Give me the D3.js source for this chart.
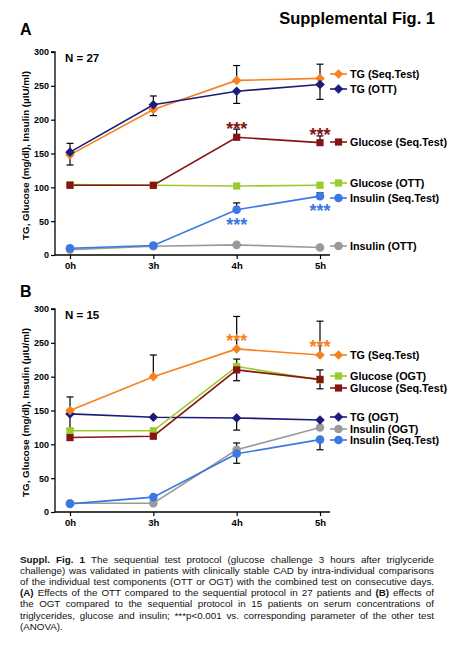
<!DOCTYPE html>
<html><head><meta charset="utf-8">
<script src="https://cdn.jsdelivr.net/npm/d3@7"></script>
<style>body{margin:0;background:#fff}svg{display:block}text{font-family:"Liberation Sans",Arial,sans-serif}</style>
</head><body>
<svg id="c" width="450" height="650"></svg>
<script>
const timepoints = ["0h","3h","4h","5h"];
const yTicks = [0,50,100,150,200,250,300];
const yLabel = "TG, Glucose (mg/dl), Insulin (µIU/ml)";

// Panel A (N = 27)
const aNames = ["TG (Seq.Test)","TG (OTT)","Glucose (Seq.Test)","Glucose (OTT)","Insulin (Seq.Test)","Insulin (OTT)"];
const aTGSeq   = [148,215,258,261];
const aTGOTT   = [152,222,242,252];
const aGluSeq  = [103,103,174,166];
const aGluOTT  = [104,103,102,103];
const aInsSeq  = [10,14,67,87];
const aInsOTT  = [8,13,15,11];
const aErrTGSeq  = [15,9,22,21];
const aErrTGOTT  = [13,13,18,22];
const aErrGluSeq = [0,0,12,10];
const aErrInsSeq = [0,0,10,5];
// Panel B (N = 15)
const bNames = ["TG (Seq.Test)","Glucose (OGT)","Glucose (Seq.Test)","TG (OGT)","Insulin (OGT)","Insulin (Seq.Test)"];
const bTGSeq   = [150,200,241,232];
const bGluOGT  = [120,120,215,195];
const bGluSeq  = [110,112,210,196];
const bTGOGT   = [145,140,139,136];
const bInsOGT  = [13,13,92,125];
const bInsSeq  = [12,22,86,107];
const bErrTGSeq  = [20,32,48,50];
const bErrGluSeq = [0,0,16,14];
const bErrTGOGT  = [22,0,18,0];
const bErrInsOGT = [0,0,10,0];
const bErrInsSeq = [0,0,14,15];

const C = {orange:"#f5821f", navy:"#1c1c7c", red:"#861414", green:"#9bcb2a", blue:"#3a78e3", gray:"#9a9a9a"};

const panels = [
  {letter:"A", n:"N = 27", top:52, bottom:255, letterY:35,
   series:[
    {name:aNames[0], v:aTGSeq, err:aErrTGSeq, dir:["down","down","up","up"], color:C.orange, shape:"diamond", ly:74},
    {name:aNames[1], v:aTGOTT, err:aErrTGOTT, dir:["up","up","down","down"], color:C.navy, shape:"diamond", ly:89},
    {name:aNames[2], v:aGluSeq, err:aErrGluSeq, dir:"up", color:C.red, shape:"square", ly:142, stars:[null,null,"up","up"]},
    {name:aNames[3], v:aGluOTT, err:null, color:C.green, shape:"square", ly:183},
    {name:aNames[4], v:aInsSeq, err:aErrInsSeq, dir:"up", color:C.blue, shape:"circle", ly:198, stars:[null,null,"down","down"]},
    {name:aNames[5], v:aInsOTT, err:null, color:C.gray, shape:"circle", ly:246}
   ], order:[5,4,3,2,0,1]},
  {letter:"B", n:"N = 15", top:309, bottom:512, letterY:297,
   series:[
    {name:bNames[0], v:bTGSeq, err:bErrTGSeq, dir:"up", color:C.orange, shape:"diamond", ly:355, stars:[null,null,"up","up"]},
    {name:bNames[1], v:bGluOGT, err:null, color:C.green, shape:"square", ly:376},
    {name:bNames[2], v:bGluSeq, err:bErrGluSeq, dir:"both", color:C.red, shape:"square", ly:388},
    {name:bNames[3], v:bTGOGT, err:bErrTGOGT, dir:"down", color:C.navy, shape:"diamond", ly:417},
    {name:bNames[4], v:bInsOGT, err:bErrInsOGT, dir:"up", color:C.gray, shape:"circle", ly:429},
    {name:bNames[5], v:bInsSeq, err:bErrInsSeq, dir:"down", color:C.blue, shape:"circle", ly:440}
   ], order:[4,5,3,1,2,0]}
];

const svg = d3.select("#c");
svg.append("text").attr("x",435).attr("y",24).attr("text-anchor","end")
  .attr("font-size",16.5).attr("font-weight","bold").text("Supplemental Fig. 1");

const x = d3.scalePoint().domain(timepoints).range([70,320]);
const axL = 55, axR = 330;

function marker(g, shape, cx, cy, color){
  if(shape==="circle") g.append("circle").attr("cx",cx).attr("cy",cy).attr("r",4.3).attr("fill",color);
  else if(shape==="square") g.append("rect").attr("x",cx-3.6).attr("y",cy-3.6).attr("width",7.2).attr("height",7.2).attr("fill",color);
  else g.append("path").attr("d",`M${cx},${cy-4.8}L${cx+4.8},${cy}L${cx},${cy+4.8}L${cx-4.8},${cy}Z`).attr("fill",color);
}

panels.forEach(p=>{
  const y = d3.scaleLinear().domain([0,300]).range([p.bottom,p.top]);
  const g = svg.append("g");
  g.append("text").attr("x",20).attr("y",p.letterY).attr("font-size",16).attr("font-weight","bold").text(p.letter);
  g.append("text").attr("x",65).attr("y",p.top+9.5).attr("font-size",11.5).attr("font-weight","bold").text(p.n);
  // y axis
  const ya = g.append("g").attr("transform",`translate(${axL},0)`)
    .call(d3.axisLeft(y).tickValues(yTicks).tickSize(4).tickPadding(2));
  ya.select(".domain").attr("stroke","#000").attr("stroke-width",1.3).attr("d",`M-4,${p.top}H0V${p.bottom}`);
  ya.selectAll(".tick line").attr("stroke","#000").attr("stroke-width",1.2);
  ya.selectAll(".tick text").attr("font-size",9).attr("font-weight","bold").attr("font-family","Liberation Sans, Arial").attr("fill","#000");
  // x axis
  const xa = g.append("g").attr("transform",`translate(0,${p.bottom})`)
    .call(d3.axisBottom(x).tickSize(4).tickPadding(3));
  xa.select(".domain").attr("stroke","#000").attr("stroke-width",1.3).attr("d",`M${axL},0H${axR}`);
  xa.selectAll(".tick line").attr("stroke","#000").attr("stroke-width",1.2);
  xa.selectAll(".tick text").attr("font-size",9.5).attr("font-weight","bold").attr("font-family","Liberation Sans, Arial").attr("fill","#000");
  // y label
  g.append("text").attr("transform",`translate(29,${(p.top+p.bottom)/2+2}) rotate(-90)`)
    .attr("text-anchor","middle").attr("font-size",9.8).attr("font-weight","bold").text(yLabel);

  const line = d3.line().x((d,i)=>x(timepoints[i])).y(d=>y(d));
  p.order.forEach(si=>{
    const s = p.series[si];
    g.append("path").attr("d",line(s.v)).attr("fill","none").attr("stroke",s.color).attr("stroke-width",1.6);
  });
  // error bars
  p.series.forEach(s=>{
    if(!s.err) return;
    s.err.forEach((e,i)=>{
      if(!e) return;
      const d = Array.isArray(s.dir)? s.dir[i] : s.dir;
      const cx = x(timepoints[i]);
      const hi = (d==="up"||d==="both")? s.v[i]+e : s.v[i];
      const lo = (d==="down"||d==="both")? s.v[i]-e : s.v[i];
      g.append("line").attr("x1",cx).attr("x2",cx).attr("y1",y(hi)).attr("y2",y(lo)).attr("stroke","#000").attr("stroke-width",1.2);
      if(d==="up"||d==="both") g.append("line").attr("x1",cx-3.5).attr("x2",cx+3.5).attr("y1",y(hi)).attr("y2",y(hi)).attr("stroke","#000").attr("stroke-width",1.2);
      if(d==="down"||d==="both") g.append("line").attr("x1",cx-3.5).attr("x2",cx+3.5).attr("y1",y(lo)).attr("y2",y(lo)).attr("stroke","#000").attr("stroke-width",1.2);
    });
  });
  // markers
  p.order.forEach(si=>{
    const s = p.series[si];
    s.v.forEach((v,i)=>marker(g,s.shape,x(timepoints[i]),y(v),s.color));
  });
  // stars
  p.series.forEach(s=>{
    if(!s.stars) return;
    s.stars.forEach((st,i)=>{
      if(!st) return;
      const yy = st==="up"? y(s.v[i])-2 : y(s.v[i])+21;
      g.append("text").attr("x",x(timepoints[i])).attr("y",yy).attr("text-anchor","middle")
        .attr("font-size",18).attr("font-weight","bold").attr("fill",s.color).text("***");
    });
  });
  // legend
  p.series.forEach(s=>{
    const lg = g.append("g");
    lg.append("line").attr("x1",330).attr("x2",347).attr("y1",s.ly).attr("y2",s.ly).attr("stroke",s.color).attr("stroke-width",1.6);
    marker(lg,s.shape,338.5,s.ly,s.color);
    lg.append("text").attr("x",350).attr("y",s.ly+3.8).attr("font-size",10.8).attr("font-weight","bold").text(s.name);
  });
});

// caption
const capLines = [
  [["Suppl. Fig. 1",true],[" The sequential test protocol (glucose challenge 3 hours after triglyceride",false]],
  [["challenge) was validated in patients with clinically stable CAD by intra-individual comparisons",false]],
  [["of the individual test components (OTT or OGT) with the combined test on consecutive days.",false]],
  [["(A)",true],[" Effects of the OTT compared to the sequential protocol in 27 patients and ",false],["(B)",true],[" effects of",false]],
  [["the OGT compared to the sequential protocol in 15 patients on serum concentrations of",false]],
  [["triglycerides, glucose and insulin; ***p<0.001 vs. corresponding parameter of the other test",false]],
  [["(ANOVA).",false]]
];
capLines.forEach((ln,i)=>{
  const t = svg.append("text").attr("x",20).attr("y",563+i*11.1).attr("font-size",9.8).attr("fill","#111");
  ln.forEach(([s,b])=>t.append("tspan").attr("font-weight",b?"bold":"normal").text(s));
  if(i<capLines.length-1){
    const w = t.node().getComputedTextLength();
    const n = ln.map(a=>a[0]).join("").split(" ").length-1;
    t.attr("word-spacing",(414-w)/n);
  }
});
</script>
</body></html>
